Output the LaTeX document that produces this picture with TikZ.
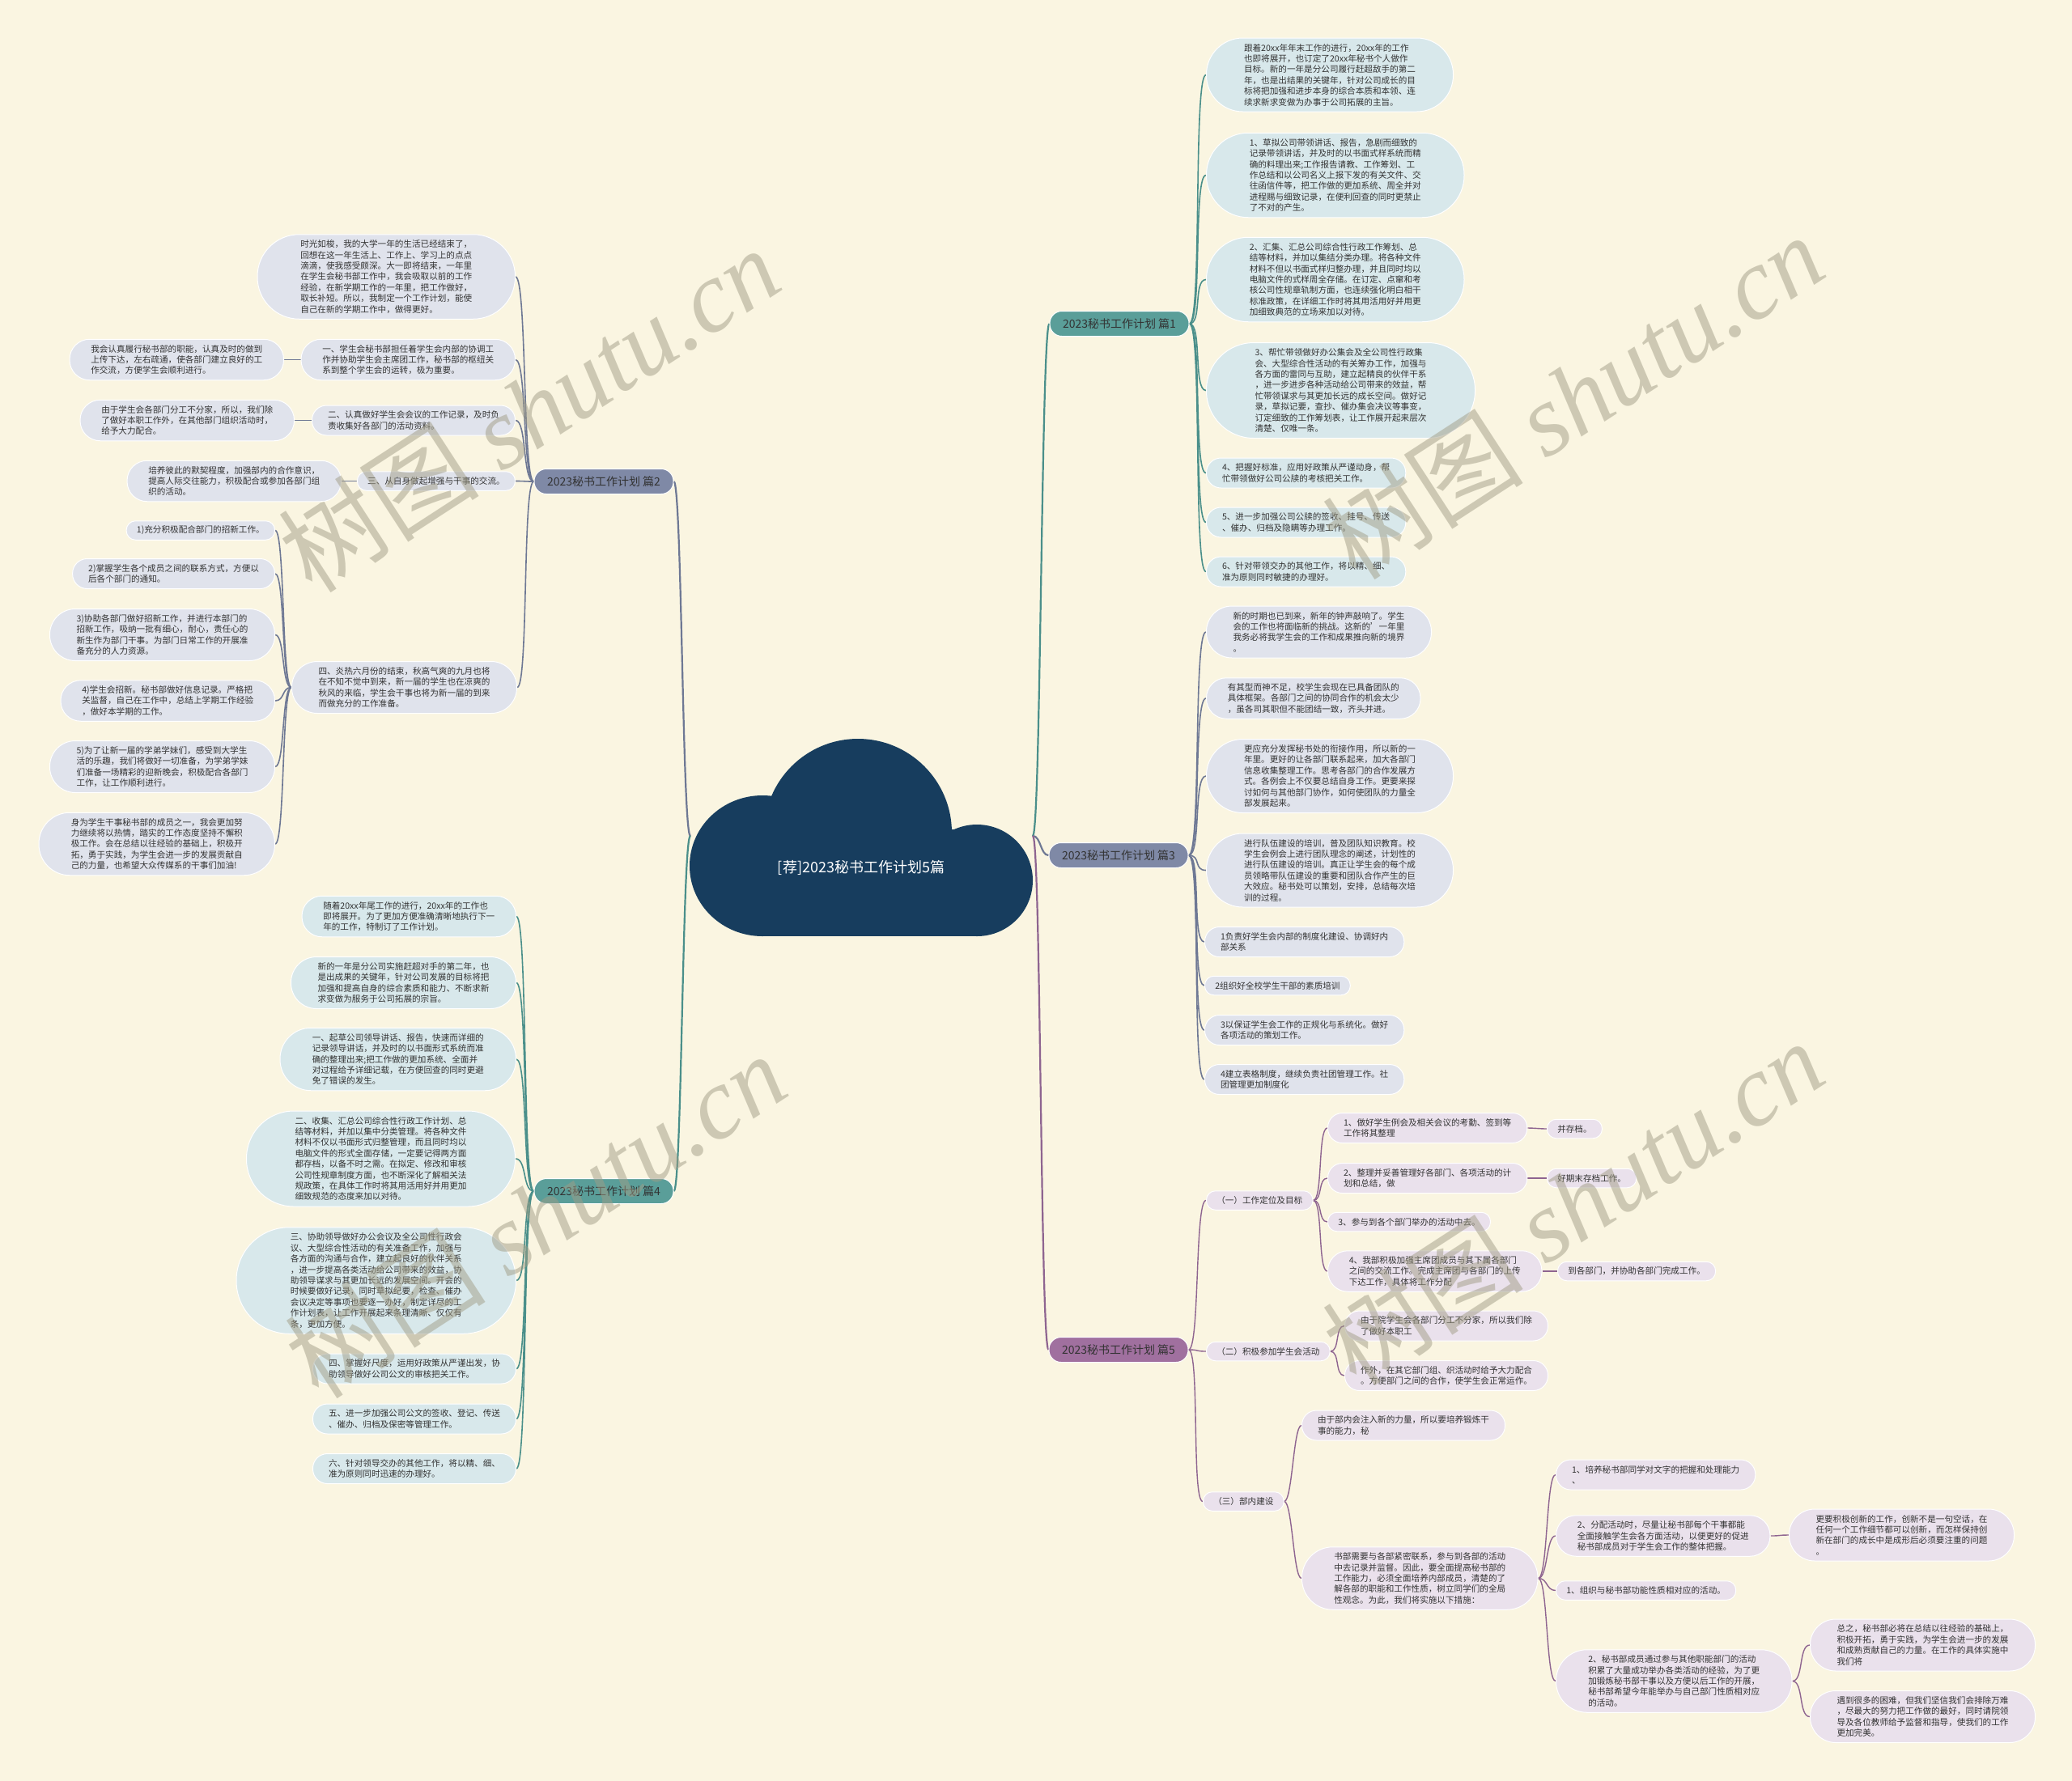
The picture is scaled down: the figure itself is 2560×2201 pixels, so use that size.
\documentclass[tikz,border=0pt]{standalone}
\usepackage{fontspec}
\setmainfont{Noto Sans CJK SC}
\newfontfamily\wmserif{Liberation Serif}
\usetikzlibrary{calc}
\definecolor{bgc}{HTML}{FAF5E1}
\definecolor{txt}{HTML}{333333}
\definecolor{navy}{HTML}{173D5E}
\definecolor{tealB}{HTML}{5A9E99}
\definecolor{tealL}{HTML}{D8E8EB}
\definecolor{tealD}{HTML}{4A8F8A}
\definecolor{slateB}{HTML}{7F89A6}
\definecolor{slateL}{HTML}{E0E3EC}
\definecolor{slateD}{HTML}{6E7894}
\definecolor{purpB}{HTML}{A0709F}
\definecolor{purpL}{HTML}{EAE1EC}
\definecolor{purpD}{HTML}{8E6490}
\definecolor{wmc}{HTML}{A19D86}
\pgfdeclarelayer{bgl}
\pgfdeclarelayer{fgl}
\pgfsetlayers{bgl,main,fgl}
\tikzset{
 leaf/.style={rectangle, draw=white, line width=1pt, inner ysep=3pt, align=left, font=\fontsize{10.6}{13.4}\selectfont, text=txt},
 ln/.style={minimum height={13.5*#1+10}, rounded corners={(13.5*#1+10)/2-0.5}, inner xsep={(13.5*#1+10)/2+1}},
 tleaf/.style={leaf, fill=tealL, ln=#1},
 sleaf/.style={leaf, fill=slateL, ln=#1},
 pleaf/.style={leaf, fill=purpL, ln=#1},
 branch/.style={rectangle, minimum height=31pt, rounded corners=15pt, inner xsep=16pt, inner ysep=3pt, font=\fontsize{14}{17}\selectfont, text=txt, draw=white, line width=1pt},
 tline/.style={draw=tealD, line width=1.6pt},
 sline/.style={draw=slateD, line width=1.6pt},
 pline/.style={draw=purpD, line width=1.4pt},
 tmain/.style={draw=tealD, line width=2.2pt},
 smain/.style={draw=slateD, line width=2.2pt},
 pmain/.style={draw=purpD, line width=2.2pt},
 wm/.style={text=wmc, opacity=0.5, font=\fontsize{125}{130}\selectfont, rotate=33},
}
\newcommand\lk[4]{\draw[#4] (#1) .. controls ($(#1)+(#3,0)$) and ($(#2)-(#3,0)$) .. (#2);}
\begin{document}
\begin{tikzpicture}[x=1pt,y=-1pt]
\useasboundingbox (0,0) rectangle (2560,2201);
\begin{pgfonlayer}{bgl}
\fill[bgc] (0,0) rectangle (2560,2201);
\end{pgfonlayer}

% cloud
\fill[navy] (1060,1029) circle[radius=116pt];
\fill[navy] (942,1070) ellipse[x radius=90pt, y radius=87pt];
\fill[navy] (1207,1088) circle[radius=69pt];
\fill[navy] (942,1025) rectangle (1207,1157);
\node[text=white, font=\fontsize{18}{22}\selectfont] (root) at (1064,1072) {[荐]2023秘书工作计划5篇};
\coordinate (rootL) at (853,1033);
\coordinate (rootR) at (1276,1033);

% branches
\node[branch, fill=tealB] (b1) at (1383,400) {2023秘书工作计划 篇1};
\node[branch, fill=slateB] (b2) at (746,595) {2023秘书工作计划 篇2};
\node[branch, fill=slateB] (b3) at (1382,1057) {2023秘书工作计划 篇3};
\node[branch, fill=tealB] (b4) at (746,1472) {2023秘书工作计划 篇4};
\node[branch, fill=purpB] (b5) at (1382,1668) {2023秘书工作计划 篇5};

% branch 1
\node[tleaf=6, anchor=west] (c1) at (1490,92.5) {跟着20xx年年末工作的进行，20xx年的工作\\也即将展开，也订定了20xx年秘书个人做作\\目标。新的一年是分公司履行赶超敌手的第二\\年，也是出结果的关键年，针对公司成长的目\\标将把加强和进步本身的综合本质和本领、连\\续求新求变做为办事于公司拓展的主旨。};
\node[tleaf=7, anchor=west] (c2) at (1490,216.5) {1、草拟公司带领讲话、报告，急剧而细致的\\记录带领讲话，并及时的以书面式样系统而精\\确的料理出来;工作报告请教、工作筹划、工\\作总结和以公司名义上报下发的有关文件、交\\往函信件等，把工作做的更加系统、周全并对\\进程赐与细致记录，在便利回查的同时更禁止\\了不对的产生。};
\node[tleaf=7, anchor=west] (c3) at (1490,345.5) {2、汇集、汇总公司综合性行政工作筹划、总\\结等材料，并加以集结分类办理。将各种文件\\材料不但以书面式样归整办理，并且同时均以\\电脑文件的式样周全存储。在订定、点窜和考\\核公司性规章轨制方面，也连续强化明白相干\\标准政策，在详细工作时将其用活用好并用更\\加细致典范的立场来加以对待。};
\node[tleaf=8, anchor=west] (c4) at (1490,482.5) {3、帮忙带领做好办公集会及全公司性行政集\\会、大型综合性活动的有关筹办工作，加强与\\各方面的雷同与互助，建立起精良的伙伴干系\\，进一步进步各种活动给公司带来的效益，帮\\忙带领谋求与其更加长远的成长空间。做好记\\录，草拟记要，查抄、催办集会决议等事变，\\订定细致的工作筹划表，让工作展开起来层次\\清楚、仅唯一条。};
\node[tleaf=2, anchor=west] (c5) at (1490,584.5) {4、把握好标准，应用好政策从严谨动身，帮\\忙带领做好公司公牍的考核把关工作。};
\node[tleaf=2, anchor=west] (c6) at (1490,645.5) {5、进一步加强公司公牍的签收、挂号、传送\\、催办、归档及隐瞒等办理工作。};
\node[tleaf=2, anchor=west] (c7) at (1490,706.5) {6、针对带领交办的其他工作，将以精、细、\\准为原则同时敏捷的办理好。};

% branch 3
\node[sleaf=4, anchor=west] (d1) at (1490,781) {新的时期也已到来，新年的钟声敲响了。学生\\会的工作也将面临新的挑战。这新的'一年里\\我务必将我学生会的工作和成果推向新的境界\\。};
\node[sleaf=3, anchor=west] (d2) at (1490,863) {有其型而神不足，校学生会现在已具备团队的\\具体框架。各部门之间的协同合作的机会太少\\，虽各司其职但不能团结一致，齐头并进。};
\node[sleaf=6, anchor=west] (d3) at (1490,959) {更应充分发挥秘书处的衔接作用，所以新的一\\年里。更好的让各部门联系起来，加大各部门\\信息收集整理工作。思考各部门的合作发展方\\式。各例会上不仅要总结自身工作。更要来探\\讨如何与其他部门协作，如何使团队的力量全\\部发展起来。};
\node[sleaf=6, anchor=west] (d4) at (1490,1075.5) {进行队伍建设的培训，普及团队知识教育。校\\学生会例会上进行团队理念的阐述，计划性的\\进行队伍建设的培训。真正让学生会的每个成\\员领略带队伍建设的重要和团队合作产生的巨\\大效应。秘书处可以策划，安排，总结每次培\\训的过程。};
\node[sleaf=2, anchor=west] (d5) at (1488,1164) {1负责好学生会内部的制度化建设、协调好内\\部关系};
\node[sleaf=1, anchor=west] (d6) at (1488,1218) {2组织好全校学生干部的素质培训};
\node[sleaf=2, anchor=west] (d7) at (1488,1273) {3以保证学生会工作的正规化与系统化。做好\\各项活动的策划工作。};
\node[sleaf=2, anchor=west] (d8) at (1488,1334) {4建立表格制度，继续负责社团管理工作。社\\团管理更加制度化};

% branch 5
\node[pleaf=1, anchor=west] (e1) at (1490,1483.5) {（一）工作定位及目标};
\node[pleaf=1, anchor=west] (e2) at (1490,1670) {（二）积极参加学生会活动};
\node[pleaf=1, anchor=west] (e3) at (1486,1855.5) {（三）部内建设};
\node[pleaf=2, anchor=west] (e1a) at (1640,1394) {1、做好学生例会及相关会议的考勤、签到等\\工作将其整理};
\node[pleaf=1, anchor=west] (e1a1) at (1911,1395) {并存档。};
\node[pleaf=2, anchor=west] (e1b) at (1640,1456) {2、整理并妥善管理好各部门、各项活动的计\\划和总结，做};
\node[pleaf=1, anchor=west] (e1b1) at (1911,1456) {好期末存档工作。};
\node[pleaf=1, anchor=west] (e1c) at (1640,1510) {3、参与到各个部门举办的活动中去。};
\node[pleaf=3, anchor=west] (e1d) at (1640,1571) {4、我部积极加强主席团成员与其下属各部门\\之间的交流工作。完成主席团与各部门的上传\\下达工作，具体将工作分配};
\node[pleaf=1, anchor=west] (e1d1) at (1924,1571) {到各部门，并协助各部门完成工作。};
\node[pleaf=2, anchor=west] (e2a) at (1661,1638.5) {由于院学生会各部门分工不分家，所以我们除\\了做好本职工};
\node[pleaf=2, anchor=west] (e2b) at (1661,1700) {作外，在其它部门组、织活动时给予大力配合\\。方便部门之间的合作，使学生会正常运作。};
\node[pleaf=2, anchor=west] (e3a) at (1608,1761.5) {由于部内会注入新的力量，所以要培养锻炼干\\事的能力，秘};
\node[pleaf=5, anchor=west] (e3b) at (1608,1950.5) {书部需要与各部紧密联系，参与到各部的活动\\中去记录并监督。因此，要全面提高秘书部的\\工作能力，必须全面培养内部成员，清楚的了\\解各部的职能和工作性质，树立同学们的全局\\性观念。为此，我们将实施以下措施：};
\node[pleaf=2, anchor=west] (e3b1) at (1922,1822.5) {1、培养秘书部同学对文字的把握和处理能力\\、};
\node[pleaf=3, anchor=west] (e3b2) at (1922,1898) {2、分配活动时，尽量让秘书部每个干事都能\\全面接触学生会各方面活动，以便更好的促进\\秘书部成员对于学生会工作的整体把握。};
\node[pleaf=4, anchor=west] (e3b2a) at (2210,1897) {更要积极创新的工作，创新不是一句空话，在\\任何一个工作细节都可以创新，而怎样保持创\\新在部门的成长中是成形后必须要注重的问题\\。};
\node[pleaf=1, anchor=west] (e3b3) at (1922,1965.5) {1、组织与秘书部功能性质相对应的活动。};
\node[pleaf=5, anchor=west] (e3b4) at (1922,2077.5) {2、秘书部成员通过参与其他职能部门的活动\\积累了大量成功举办各类活动的经验，为了更\\加锻炼秘书部干事以及方便以后工作的开展，\\秘书部希望今年能举办与自己部门性质相对应\\的活动。};
\node[pleaf=4, anchor=west] (e3b4a) at (2236,2033) {总之，秘书部必将在总结以往经验的基础上，\\积极开拓，勇于实践，为学生会进一步的发展\\和成熟贡献自己的力量。在工作的具体实施中\\我们将};
\node[pleaf=4, anchor=west] (e3b4b) at (2236,2121.5) {遇到很多的困难，但我们坚信我们会排除万难\\，尽最大的努力把工作做的最好，同时请院领\\导及各位教师给予监督和指导，使我们的工作\\更加完美。};

% branch 2
\node[sleaf=7, anchor=east] (f1) at (637,342) {时光如梭，我的大学一年的生活已经结束了，\\回想在这一年生活上、工作上、学习上的点点\\滴滴，使我感受颇深。大一即将结束，一年里\\在学生会秘书部工作中，我会吸取以前的工作\\经验，在新学期工作的一年里，把工作做好，\\取长补短。所以，我制定一个工作计划，能使\\自己在新的学期工作中，做得更好。};
\node[sleaf=3, anchor=east] (f2) at (637,444.5) {一、学生会秘书部担任着学生会内部的协调工\\作并协助学生会主席团工作，秘书部的枢纽关\\系到整个学生会的运转，极为重要。};
\node[sleaf=3, anchor=east] (f2a) at (351,444.5) {我会认真履行秘书部的职能，认真及时的做到\\上传下达，左右疏通，使各部门建立良好的工\\作交流，方便学生会顺利进行。};
\node[sleaf=2, anchor=east] (f3) at (637,519.5) {二、认真做好学生会会议的工作记录，及时负\\责收集好各部门的活动资料。};
\node[sleaf=3, anchor=east] (f3a) at (364,519.5) {由于学生会各部门分工不分家，所以，我们除\\了做好本职工作外，在其他部门组织活动时，\\给予大力配合。};
\node[sleaf=1, anchor=east] (f4) at (637,594.5) {三、从自身做起增强与干事的交流。};
\node[sleaf=3, anchor=east] (f4a) at (422,594.5) {培养彼此的默契程度，加强部内的合作意识，\\提高人际交往能力，积极配合或参加各部门组\\织的活动。};
\node[sleaf=4, anchor=east] (f5) at (639,849.5) {四、炎热六月份的结束，秋高气爽的九月也将\\在不知不觉中到来，新一届的学生也在凉爽的\\秋风的来临，学生会干事也将为新一届的到来\\而做充分的工作准备。};
\node[sleaf=1, anchor=east] (f5a) at (340,655.5) {1)充分积极配合部门的招新工作。};
\node[sleaf=2, anchor=east] (f5b) at (340,709) {2)掌握学生各个成员之间的联系方式，方便以\\后各个部门的通知。};
\node[sleaf=4, anchor=east] (f5c) at (340,784.5) {3)协助各部门做好招新工作，并进行本部门的\\招新工作，吸纳一批有细心，耐心，责任心的\\新生作为部门干事。为部门日常工作的开展准\\备充分的人力资源。};
\node[sleaf=3, anchor=east] (f5d) at (340,866) {4)学生会招新。秘书部做好信息记录。严格把\\关监督，自己在工作中，总结上学期工作经验\\，做好本学期的工作。};
\node[sleaf=4, anchor=east] (f5e) at (340,947.5) {5)为了让新一届的学弟学妹们，感受到大学生\\活的乐趣，我们将做好一切准备，为学弟学妹\\们准备一场精彩的迎新晚会，积极配合各部门\\工作，让工作顺利进行。};
\node[sleaf=5, anchor=east] (f6) at (340,1043) {身为学生干事秘书部的成员之一，我会更加努\\力继续将以热情，踏实的工作态度坚持不懈积\\极工作。会在总结以往经验的基础上，积极开\\拓，勇于实践，为学生会进一步的发展贡献自\\己的力量，也希望大众传媒系的干事们加油!};

% branch 4
\node[tleaf=3, anchor=east] (g1) at (638,1132.5) {随着20xx年尾工作的进行，20xx年的工作也\\即将展开。为了更加方便准确清晰地执行下一\\年的工作，特制订了工作计划。};
\node[tleaf=4, anchor=east] (g2) at (638,1214.5) {新的一年是分公司实施赶超对手的第二年，也\\是出成果的关键年，针对公司发展的目标将把\\加强和提高自身的综合素质和能力、不断求新\\求变做为服务于公司拓展的宗旨。};
\node[tleaf=5, anchor=east] (g3) at (638,1309) {一、起草公司领导讲话、报告，快速而详细的\\记录领导讲话，并及时的以书面形式系统而准\\确的整理出来;把工作做的更加系统、全面并\\对过程给予详细记载，在方便回查的同时更避\\免了错误的发生。};
\node[tleaf=8, anchor=east] (g4) at (637,1432) {二、收集、汇总公司综合性行政工作计划、总\\结等材料，并加以集中分类管理。将各种文件\\材料不仅以书面形式归整管理，而且同时均以\\电脑文件的形式全面存储，一定要记得两方面\\都存档，以备不时之需。在拟定、修改和审核\\公司性规章制度方面，也不断深化了解相关法\\规政策，在具体工作时将其用活用好并用更加\\细致规范的态度来加以对待。};
\node[tleaf=9, anchor=east] (g5) at (638,1582.5) {三、协助领导做好办公会议及全公司性行政会\\议、大型综合性活动的有关准备工作，加强与\\各方面的沟通与合作，建立起良好的伙伴关系\\，进一步提高各类活动给公司带来的效益，协\\助领导谋求与其更加长远的发展空间。开会的\\时候要做好记录，同时草拟纪要，检查、催办\\会议决定等事项也要逐一办好，制定详尽的工\\作计划表，让工作开展起来条理清晰、仅仅有\\条，更加方便。};
\node[tleaf=2, anchor=east] (g6) at (638,1691.5) {四、掌握好尺度，运用好政策从严谨出发，协\\助领导做好公司公文的审核把关工作。};
\node[tleaf=2, anchor=east] (g7) at (638,1753.5) {五、进一步加强公司公文的签收、登记、传送\\、催办、归档及保密等管理工作。};
\node[tleaf=2, anchor=east] (g8) at (638,1815) {六、针对领导交办的其他工作，将以精、细、\\准为原则同时迅速的办理好。};

\begin{pgfonlayer}{bgl}
% root to branches
\lk{rootR}{b1.west}{10}{tmain}
\lk{rootR}{b3.west}{10}{smain}
\lk{rootR}{b5.west}{10}{pmain}
\lk{rootL}{b2.east}{-10}{smain}
\lk{rootL}{b4.east}{-10}{tmain}
% branch 1
\foreach \c in {c1,c2,c3,c4,c5,c6,c7} {\lk{b1.east}{\c.west}{16}{tline}}
% branch 3
\foreach \c in {d1,d2,d3,d4,d5,d6,d7,d8} {\lk{b3.east}{\c.west}{16}{sline}}
% branch 5
\foreach \c in {e1,e2,e3} {\lk{b5.east}{\c.west}{14}{pline}}
\foreach \c in {e1a,e1b,e1c,e1d} {\lk{e1.east}{\c.west}{12}{pline}}
\lk{e1a.east}{e1a1.west}{8}{pline}
\lk{e1b.east}{e1b1.west}{8}{pline}
\lk{e1d.east}{e1d1.west}{8}{pline}
\foreach \c in {e2a,e2b} {\lk{e2.east}{\c.west}{12}{pline}}
\foreach \c in {e3a,e3b} {\lk{e3.east}{\c.west}{10}{pline}}
\foreach \c in {e3b1,e3b2,e3b3,e3b4} {\lk{e3b.east}{\c.west}{12}{pline}}
\lk{e3b2.east}{e3b2a.west}{14}{pline}
\lk{e3b4.east}{e3b4a.west}{14}{pline}
\lk{e3b4.east}{e3b4b.west}{14}{pline}
% branch 2
\foreach \c in {f1,f2,f3,f4,f5} {\lk{b2.west}{\c.east}{-14}{sline}}
\lk{f2.west}{f2a.east}{-8}{sline}
\lk{f3.west}{f3a.east}{-8}{sline}
\lk{f4.west}{f4a.east}{-8}{sline}
\foreach \c in {f5a,f5b,f5c,f5d,f5e,f6} {\lk{f5.west}{\c.east}{-12}{sline}}
% branch 4
\foreach \c in {g1,g2,g3,g4,g5,g6,g7,g8} {\lk{b4.west}{\c.east}{-14}{tline}}
\end{pgfonlayer}

% watermarks
\begin{pgfonlayer}{fgl}
\node[wm] (wm1) at (653,506) {树图 {\wmserif\itshape shutu.cn}};
\node[wm] (wm2) at (1943,490) {树图 {\wmserif\itshape shutu.cn}};
\node[wm] (wm3) at (661,1502) {树图 {\wmserif\itshape shutu.cn}};
\node[wm] (wm4) at (1943,1486) {树图 {\wmserif\itshape shutu.cn}};
\end{pgfonlayer}
\end{tikzpicture}
\end{document}
